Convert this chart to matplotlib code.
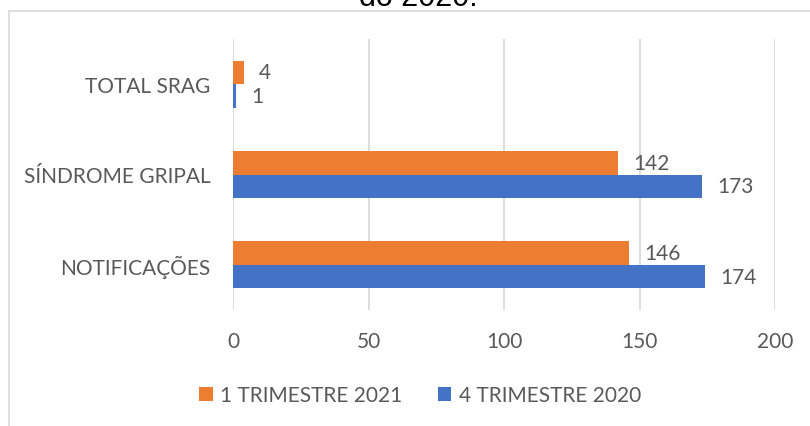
import matplotlib.pyplot as plt
from matplotlib.patches import Rectangle
import numpy as np

categories = ['NOTIFICAÇÕES', 'SÍNDROME GRIPAL', 'TOTAL SRAG']
trim_2021 = [146, 142, 4]
trim_2020 = [174, 173, 1]
series_names = ['1 TRIMESTRE 2021', '4 TRIMESTRE 2020']
x_ticks = [0, 50, 100, 150, 200]

ORANGE = '#ED7D31'
BLUE = '#4472C4'
TEXT = '#595959'
GRID = '#D9D9D9'

plt.rcParams['font.family'] = ['Lato', 'DejaVu Sans']

W, H = 810, 427
fig = plt.figure(figsize=(W / 100, H / 100), dpi=100)

# chart frame, cut off on the right and bottom like the screenshot
fig.patches.append(Rectangle((9 / W, -0.1), 1.2, 1 - 12 / H + 0.1,
                             transform=fig.transFigure, fill=False,
                             edgecolor=GRID, linewidth=1.2))

# title, mostly cropped at the top
fig.text(418 / W, 1 - 6 / H, 'do 2020.', ha='center', va='baseline',
         fontsize=22, family='Liberation Sans', color='black')

ax = fig.add_axes([233 / W, (H - 311) / H, 542 / W, 271 / H])

y = np.arange(len(categories))
h = 0.26
bars1 = ax.barh(y + h / 2, trim_2021, height=h, color=ORANGE, label=series_names[0])
bars2 = ax.barh(y - h / 2, trim_2020, height=h, color=BLUE, label=series_names[1])

for bars, vals in [(bars1, trim_2021), (bars2, trim_2020)]:
    for b, v in zip(bars, vals):
        ax.annotate(str(v), (b.get_width(), b.get_y() + b.get_height() / 2),
                    xytext=(11, 0), textcoords='offset points',
                    va='center', ha='left', fontsize=15, color=TEXT)

ax.set_xlim(0, 200)
ax.set_ylim(-0.5, 2.5)
ax.set_xticks(x_ticks)
ax.set_yticks(y)
ax.set_yticklabels(categories)
ax.tick_params(axis='both', length=0, labelsize=15, labelcolor=TEXT)
ax.tick_params(axis='x', pad=15)
ax.tick_params(axis='y', pad=16)
ax.grid(axis='x', color=GRID, linewidth=1.3)
ax.set_axisbelow(True)
for s in ax.spines.values():
    s.set_visible(False)

fig.legend(handles=[bars1, bars2], loc='center', ncol=2,
           bbox_to_anchor=(420 / W, 31 / H), frameon=False,
           fontsize=15, labelcolor=TEXT, handlelength=0.65, handleheight=0.65,
           handletextpad=0.35, columnspacing=1.7)

fig.savefig('out.png', dpi=100)
